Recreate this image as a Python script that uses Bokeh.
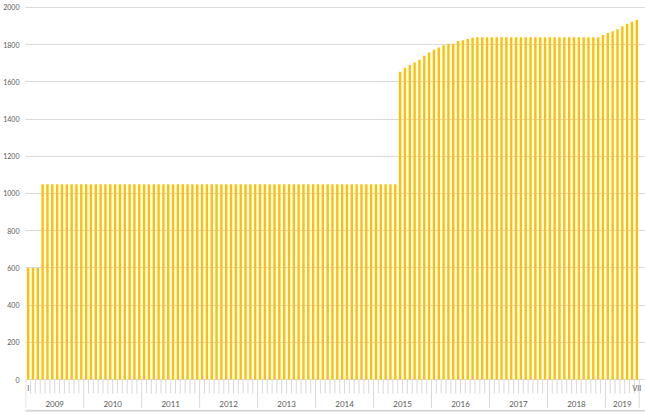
from bokeh.plotting import figure
from bokeh.models import FixedTicker, Range1d, ColumnDataSource
from bokeh.embed import file_html
from bokeh.resources import INLINE
from bokeh.core.properties import value

# ---- data ----
years = ["2009", "2010", "2011", "2012", "2013", "2014", "2015", "2016", "2017", "2018", "2019"]
months_in_year = [12, 12, 12, 12, 12, 12, 12, 12, 12, 12, 7]
v2009 = [600, 600, 600, 1050, 1050, 1050, 1050, 1050, 1050, 1050, 1050, 1050]
v2010 = [1050, 1050, 1050, 1050, 1050, 1050, 1050, 1050, 1050, 1050, 1050, 1050]
v2011 = [1050, 1050, 1050, 1050, 1050, 1050, 1050, 1050, 1050, 1050, 1050, 1050]
v2012 = [1050, 1050, 1050, 1050, 1050, 1050, 1050, 1050, 1050, 1050, 1050, 1050]
v2013 = [1050, 1050, 1050, 1050, 1050, 1050, 1050, 1050, 1050, 1050, 1050, 1050]
v2014 = [1050, 1050, 1050, 1050, 1050, 1050, 1050, 1050, 1050, 1050, 1050, 1050]
v2015 = [1050, 1050, 1050, 1050, 1050, 1654, 1674, 1690, 1704, 1719, 1740, 1758]
v2016 = [1772, 1785, 1796, 1805, 1805, 1819, 1824, 1830, 1837, 1840, 1840, 1840]
v2017 = [1840, 1840, 1840, 1840, 1840, 1840, 1840, 1840, 1840, 1840, 1840, 1840]
v2018 = [1840, 1840, 1840, 1840, 1840, 1840, 1840, 1840, 1840, 1840, 1840, 1851]
v2019 = [1863, 1872, 1882, 1898, 1912, 1923, 1934]
first_month_label = "I"
last_month_label = "VII"
y_ticks = [0, 200, 400, 600, 800, 1000, 1200, 1400, 1600, 1800, 2000]

values = v2009 + v2010 + v2011 + v2012 + v2013 + v2014 + v2015 + v2016 + v2017 + v2018 + v2019
n = len(values)
xs = [i + 0.5 for i in range(n)]

# year boundaries
bounds = [0]
for m in months_in_year:
    bounds.append(bounds[-1] + m)
year_centers = [(bounds[i] + bounds[i + 1]) / 2 for i in range(len(years))]
month_ticks = [b for b in range(1, n) if b not in bounds]

Y_BOTTOM = -177
X_END = n + 1.3
p = figure(width=645, height=412, output_backend="svg", toolbar_location=None,
           x_range=Range1d(-0.05, X_END), y_range=Range1d(Y_BOTTOM, 2037),
           x_axis_location=None, min_border_left=25, min_border_right=0,
           min_border_top=0, min_border_bottom=0)
p.outline_line_color = None
p.background_fill_color = "white"
p.border_fill_color = "white"

p.yaxis.ticker = FixedTicker(ticks=y_ticks)
p.yaxis.axis_line_color = None
p.yaxis.major_tick_line_color = None
p.yaxis.minor_tick_line_color = None
p.yaxis.major_tick_out = 0
p.yaxis.major_tick_in = 0
p.yaxis.minor_tick_out = 0
p.yaxis.minor_tick_in = 0
p.yaxis.major_label_text_font = "Lato"
p.yaxis.major_label_text_font_size = "7px"
p.yaxis.major_label_text_color = "#595959"
p.yaxis.major_label_standoff = 6
p.xgrid.visible = False
p.ygrid.ticker = FixedTicker(ticks=y_ticks)
p.ygrid.grid_line_color = "#D9D9D9"
p.ygrid.grid_line_width = 1

src = ColumnDataSource(dict(x=xs, top=values))
p.vbar(x="x", top="top", bottom=0, width=0.5, source=src,
       fill_color="#FFC000", line_color=None)

# month tick marks
p.segment(x0=month_ticks, x1=month_ticks, y0=[0] * len(month_ticks), y1=[-75] * len(month_ticks),
          line_color="#D9D9D9", line_width=1)
# year separators
p.segment(x0=bounds, x1=bounds, y0=[0] * len(bounds), y1=[-152] * len(bounds),
          line_color="#D9D9D9", line_width=1)
# bottom line
p.segment(x0=[-0.05], x1=[X_END], y0=[-167], y1=[-167],
          line_color="#D9D9D9", line_width=2)

# month labels (first and last only)
p.text(x=[xs[0], xs[-1]], y=[-43, -43], text=[first_month_label, last_month_label],
       text_font=value("Lato"), text_font_size="7px", text_color="#595959",
       text_align="center", text_baseline="middle")
# year labels
p.text(x=year_centers, y=[-129] * len(years), text=years,
       text_font=value("Lato"), text_font_size="8px", text_color="#595959",
       text_align="center", text_baseline="middle")

open("out.html", "w").write(file_html(p, INLINE))
